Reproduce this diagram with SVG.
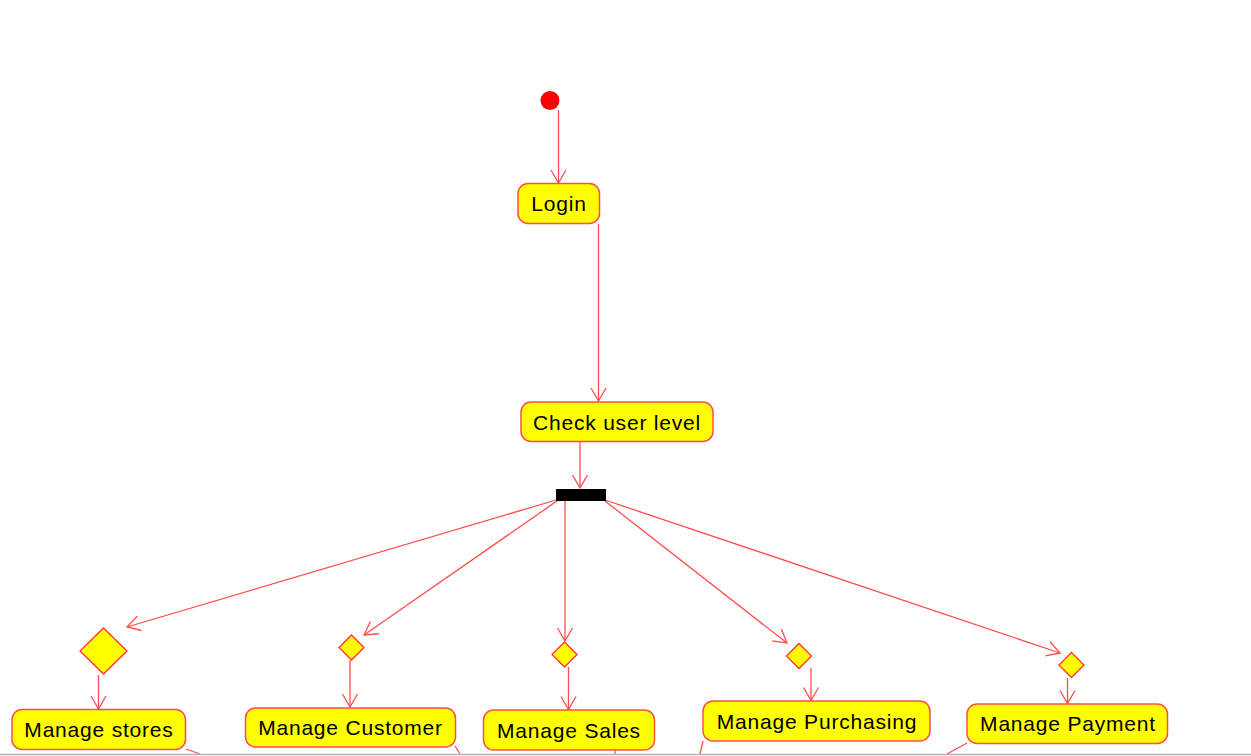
<svg xmlns="http://www.w3.org/2000/svg" width="1251" height="756" viewBox="0 0 1251 756">
<defs>
<marker id="arr" markerUnits="userSpaceOnUse" markerWidth="16" markerHeight="18" viewBox="0 0 16 18" refX="14" refY="9" orient="auto">
<path d="M1,1.5 L14,9 L1,16.5" fill="none" stroke="#ff4d4d" stroke-width="1.3"/>
</marker>
</defs>
<style>
.act{fill:#ffff00;stroke:#ff4d4d;stroke-width:1.5}
.dec{fill:#ffff00;stroke:#ff3333;stroke-width:1.3}
.lbl{font-family:"Liberation Sans",Arial,sans-serif;font-size:21px;letter-spacing:0.8px;fill:#000;text-anchor:middle}
.con{stroke:#ff4d4d;stroke-width:1.3;fill:none}
</style>
<rect x="0" y="0" width="1251" height="756" fill="#ffffff"/>
<g id="connectors">
<line class="con" x1="558.5" y1="110" x2="558.5" y2="183" marker-end="url(#arr)"/>
<line class="con" x1="598.5" y1="224" x2="598.5" y2="401" marker-end="url(#arr)"/>
<line class="con" x1="580" y1="442" x2="580" y2="488" marker-end="url(#arr)"/>
<line class="con" x1="556" y1="500" x2="127" y2="627" marker-end="url(#arr)"/>
<line class="con" x1="557" y1="501" x2="364" y2="635" marker-end="url(#arr)"/>
<line class="con" x1="565" y1="501" x2="565" y2="641" marker-end="url(#arr)"/>
<line class="con" x1="605" y1="501" x2="787" y2="643" marker-end="url(#arr)"/>
<line class="con" x1="605" y1="500" x2="1060" y2="653" marker-end="url(#arr)"/>
<line class="con" x1="98.5" y1="675" x2="98.5" y2="709" marker-end="url(#arr)"/>
<line class="con" x1="350" y1="660" x2="350" y2="707" marker-end="url(#arr)"/>
<line class="con" x1="568.5" y1="667" x2="568.5" y2="709.5" marker-end="url(#arr)"/>
<line class="con" x1="811" y1="668" x2="811" y2="700.5" marker-end="url(#arr)"/>
<line class="con" x1="1067.5" y1="678" x2="1067.5" y2="703.5" marker-end="url(#arr)"/>
<line class="con" x1="186" y1="749" x2="200" y2="754"/>
<line class="con" x1="455" y1="746" x2="460" y2="754"/>
<line class="con" x1="615" y1="750" x2="615" y2="754"/>
<line class="con" x1="703" y1="741" x2="700" y2="754"/>
<line class="con" x1="967" y1="743" x2="947" y2="754"/>
</g>
<g id="start"><circle cx="550" cy="100.5" r="9.5" fill="#ff0000"/></g>
<g id="login"><rect class="act" x="518" y="183.5" width="81.5" height="40" rx="10"/><text class="lbl" x="559" y="211">Login</text></g>
<g id="check"><rect class="act" x="521" y="402" width="192" height="39.5" rx="10"/><text class="lbl" x="617" y="429.5">Check user level</text></g>
<g id="fork"><rect x="556" y="489" width="50" height="12" fill="#000"/></g>
<g id="d1"><polygon class="dec" points="103.5,628 127,651 103.5,674 80,651"/></g>
<g id="d2"><polygon class="dec" points="351.5,635 364,647.5 351.5,660 339,647.5"/></g>
<g id="d3"><polygon class="dec" points="564.5,642 577,654.5 564.5,667 552,654.5"/></g>
<g id="d4"><polygon class="dec" points="799,643.5 811.5,656 799,668.5 786.5,656"/></g>
<g id="d5"><polygon class="dec" points="1071.5,652.5 1084,665 1071.5,677.5 1059,665"/></g>
<g id="stores"><rect class="act" x="12" y="709.5" width="173.5" height="40" rx="10"/><text class="lbl" x="99" y="737">Manage stores</text></g>
<g id="customer"><rect class="act" x="245.5" y="708" width="210" height="39" rx="10"/><text class="lbl" x="350.5" y="735">Manage Customer</text></g>
<g id="sales"><rect class="act" x="483.5" y="710" width="171" height="40" rx="10"/><text class="lbl" x="569" y="737.5">Manage Sales</text></g>
<g id="purchasing"><rect class="act" x="703" y="701" width="227" height="40" rx="10"/><text class="lbl" x="817" y="728.5">Manage Purchasing</text></g>
<g id="payment"><rect class="act" x="967" y="704" width="200.5" height="39.5" rx="10"/><text class="lbl" x="1068" y="730.5">Manage Payment</text></g>
<line x1="0" y1="754.5" x2="1251" y2="754.5" stroke="#b4b4b4" stroke-width="1.5"/>
</svg>
